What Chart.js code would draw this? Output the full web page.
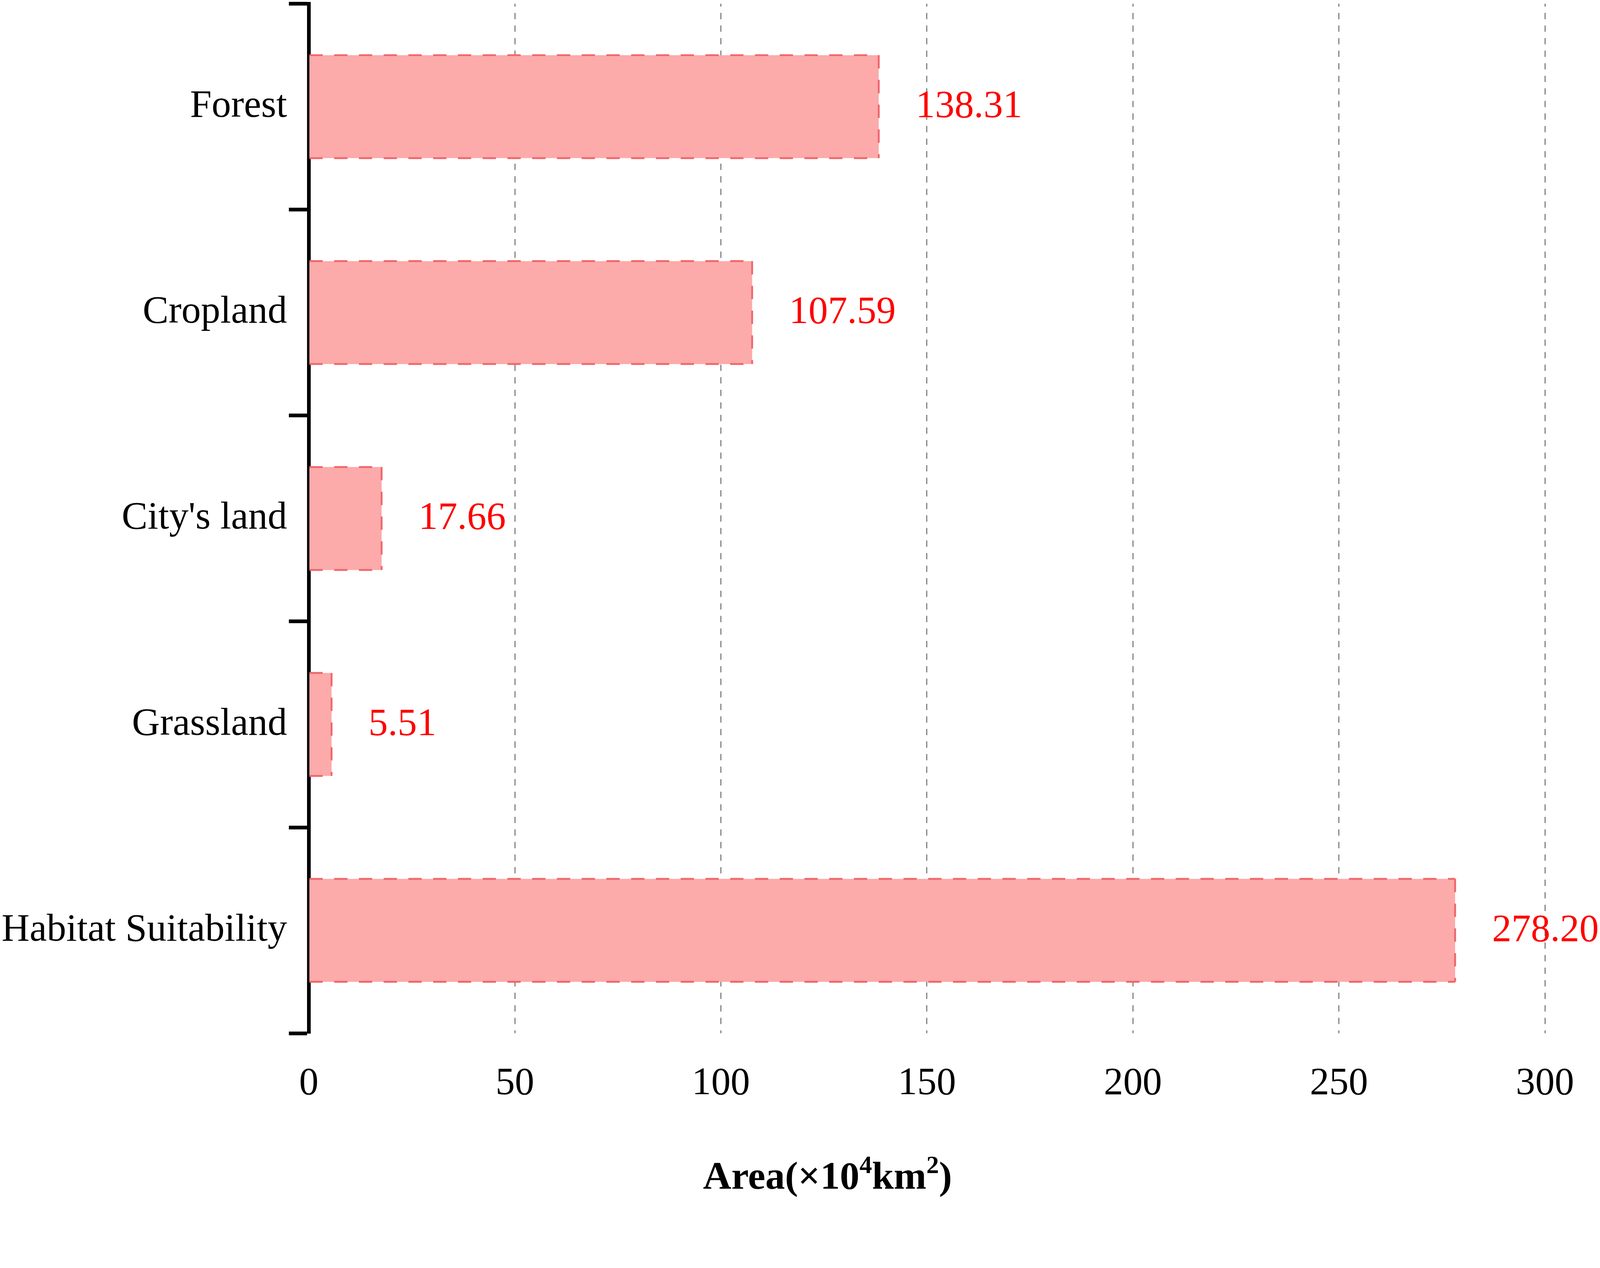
<!DOCTYPE html>
<html>
<head>
<meta charset="utf-8">
<script src="https://cdn.jsdelivr.net/npm/chart.js@4.4.0/dist/chart.umd.min.js"></script>
<style>
html,body{margin:0;padding:0;background:#ffffff;overflow:hidden;}
canvas{display:block;}
</style>
</head>
<body>
<canvas id="c"></canvas>
<script>
// ---- data ----
const categories = ["Forest", "Cropland", "City's land", "Grassland", "Habitat Suitability"];
const areaValues = [138.31, 107.59, 17.66, 5.51, 278.20];
const xTickValues = [0, 50, 100, 150, 200, 250, 300];
const axisTitleParts = [
  { text: "Area(\u00d710", sup: false },
  { text: "4", sup: true },
  { text: "km", sup: false },
  { text: "2", sup: true },
  { text: ")", sup: false }
];

const SERIF = "'Liberation Serif', 'Times New Roman', serif";

// viewport-relative sizing (reference designed at 4331 x 3246)
const VW = window.innerWidth || 4331;
const VH = window.innerHeight || 3246;
const k = Math.min(VW / 4331, VH / 3246);
const px = v => v * k;

const canvas = document.getElementById('c');
canvas.width = VW;
canvas.height = VH;
canvas.style.width = VW + 'px';
canvas.style.height = VH + 'px';

const barDecor = {
  id: 'barDecor',
  afterDatasetsDraw(chart) {
    const ctx = chart.ctx;
    const meta = chart.getDatasetMeta(0);
    meta.data.forEach((bar, i) => {
      const p = bar.getProps(['x', 'y', 'base', 'height'], true);
      const top = p.y - p.height / 2;
      const bot = p.y + p.height / 2;
      ctx.save();
      ctx.strokeStyle = '#F0666B';
      ctx.lineWidth = px(5);
      ctx.setLineDash([px(36), px(31)]);
      ctx.beginPath();
      ctx.moveTo(p.base, top); ctx.lineTo(p.x, top);
      ctx.stroke();
      ctx.beginPath();
      ctx.moveTo(p.x, top); ctx.lineTo(p.x, bot);
      ctx.stroke();
      ctx.beginPath();
      ctx.moveTo(p.base, bot); ctx.lineTo(p.x, bot);
      ctx.stroke();
      ctx.restore();

      ctx.save();
      ctx.font = px(105) + 'px ' + SERIF;
      ctx.fillStyle = '#FF0000';
      ctx.textAlign = 'left';
      ctx.textBaseline = 'middle';
      ctx.fillText(areaValues[i].toFixed(2), p.x + px(100), p.y + px(1));
      ctx.restore();
    });
  }
};

const axisTitle = {
  id: 'axisTitle',
  afterDraw(chart) {
    const ctx = chart.ctx;
    const mainFont = 'bold ' + px(106) + 'px ' + SERIF;
    const supFont = 'bold ' + px(68) + 'px ' + SERIF;
    ctx.save();
    let total = 0;
    const widths = axisTitleParts.map(part => {
      ctx.font = part.sup ? supFont : mainFont;
      const w = ctx.measureText(part.text).width;
      total += w;
      return w;
    });
    const cx = px(2240);
    const baseY = px(3218);
    let x = cx - total / 2;
    ctx.fillStyle = '#000000';
    ctx.textAlign = 'left';
    ctx.textBaseline = 'alphabetic';
    axisTitleParts.forEach((part, i) => {
      ctx.font = part.sup ? supFont : mainFont;
      ctx.fillText(part.text, x, part.sup ? baseY - px(43) : baseY);
      x += widths[i];
    });
    ctx.restore();
  }
};

new Chart(canvas, {
  type: 'bar',
  data: {
    labels: categories,
    datasets: [{
      data: areaValues,
      backgroundColor: '#FCAAAA',
      borderWidth: 0,
      categoryPercentage: 1.0,
      barPercentage: 0.5
    }]
  },
  options: {
    indexAxis: 'y',
    responsive: false,
    animation: false,
    layout: { padding: { left: 0, top: px(10), right: VW - px(4182), bottom: VH - px(3246) } },
    plugins: {
      legend: { display: false },
      tooltip: { enabled: false },
      title: { display: false }
    },
    scales: {
      x: {
        type: 'linear',
        min: 0,
        max: 300,
        z: 1,
        afterBuildTicks(s) { s.ticks = xTickValues.map(v => ({ value: v })); },
        ticks: {
          color: '#000000',
          padding: px(74),
          maxRotation: 0,
          font: { family: SERIF, size: px(105), lineHeight: 1.2 }
        },
        grid: {
          drawTicks: false,
          lineWidth: px(3),
          color: (c) => (c.tick && c.tick.value === 0) ? 'rgba(0,0,0,0)' : '#7d7d7d'
        },
        border: { display: false, dash: [px(17), px(17)], dashOffset: px(9) },
        afterFit(s) { s.height = px(449); s.paddingLeft = 0; s.paddingRight = 0; }
      },
      y: {
        type: 'category',
        z: 1,
        offset: true,
        grid: {
          offset: true,
          drawOnChartArea: false,
          drawTicks: true,
          tickLength: px(54),
          tickWidth: px(10),
          tickColor: '#000000',
          color: '#000000',
          lineWidth: 1
        },
        border: { display: true, width: px(10), color: '#000000' },
        ticks: {
          color: '#000000',
          padding: px(5),
          font: { family: SERIF, size: px(105), lineHeight: 1.2 }
        },
        afterFit(s) { s.width = px(836); s.paddingTop = 0; s.paddingBottom = 0; }
      }
    }
  },
  plugins: [barDecor, axisTitle]
});
</script>
</body>
</html>
